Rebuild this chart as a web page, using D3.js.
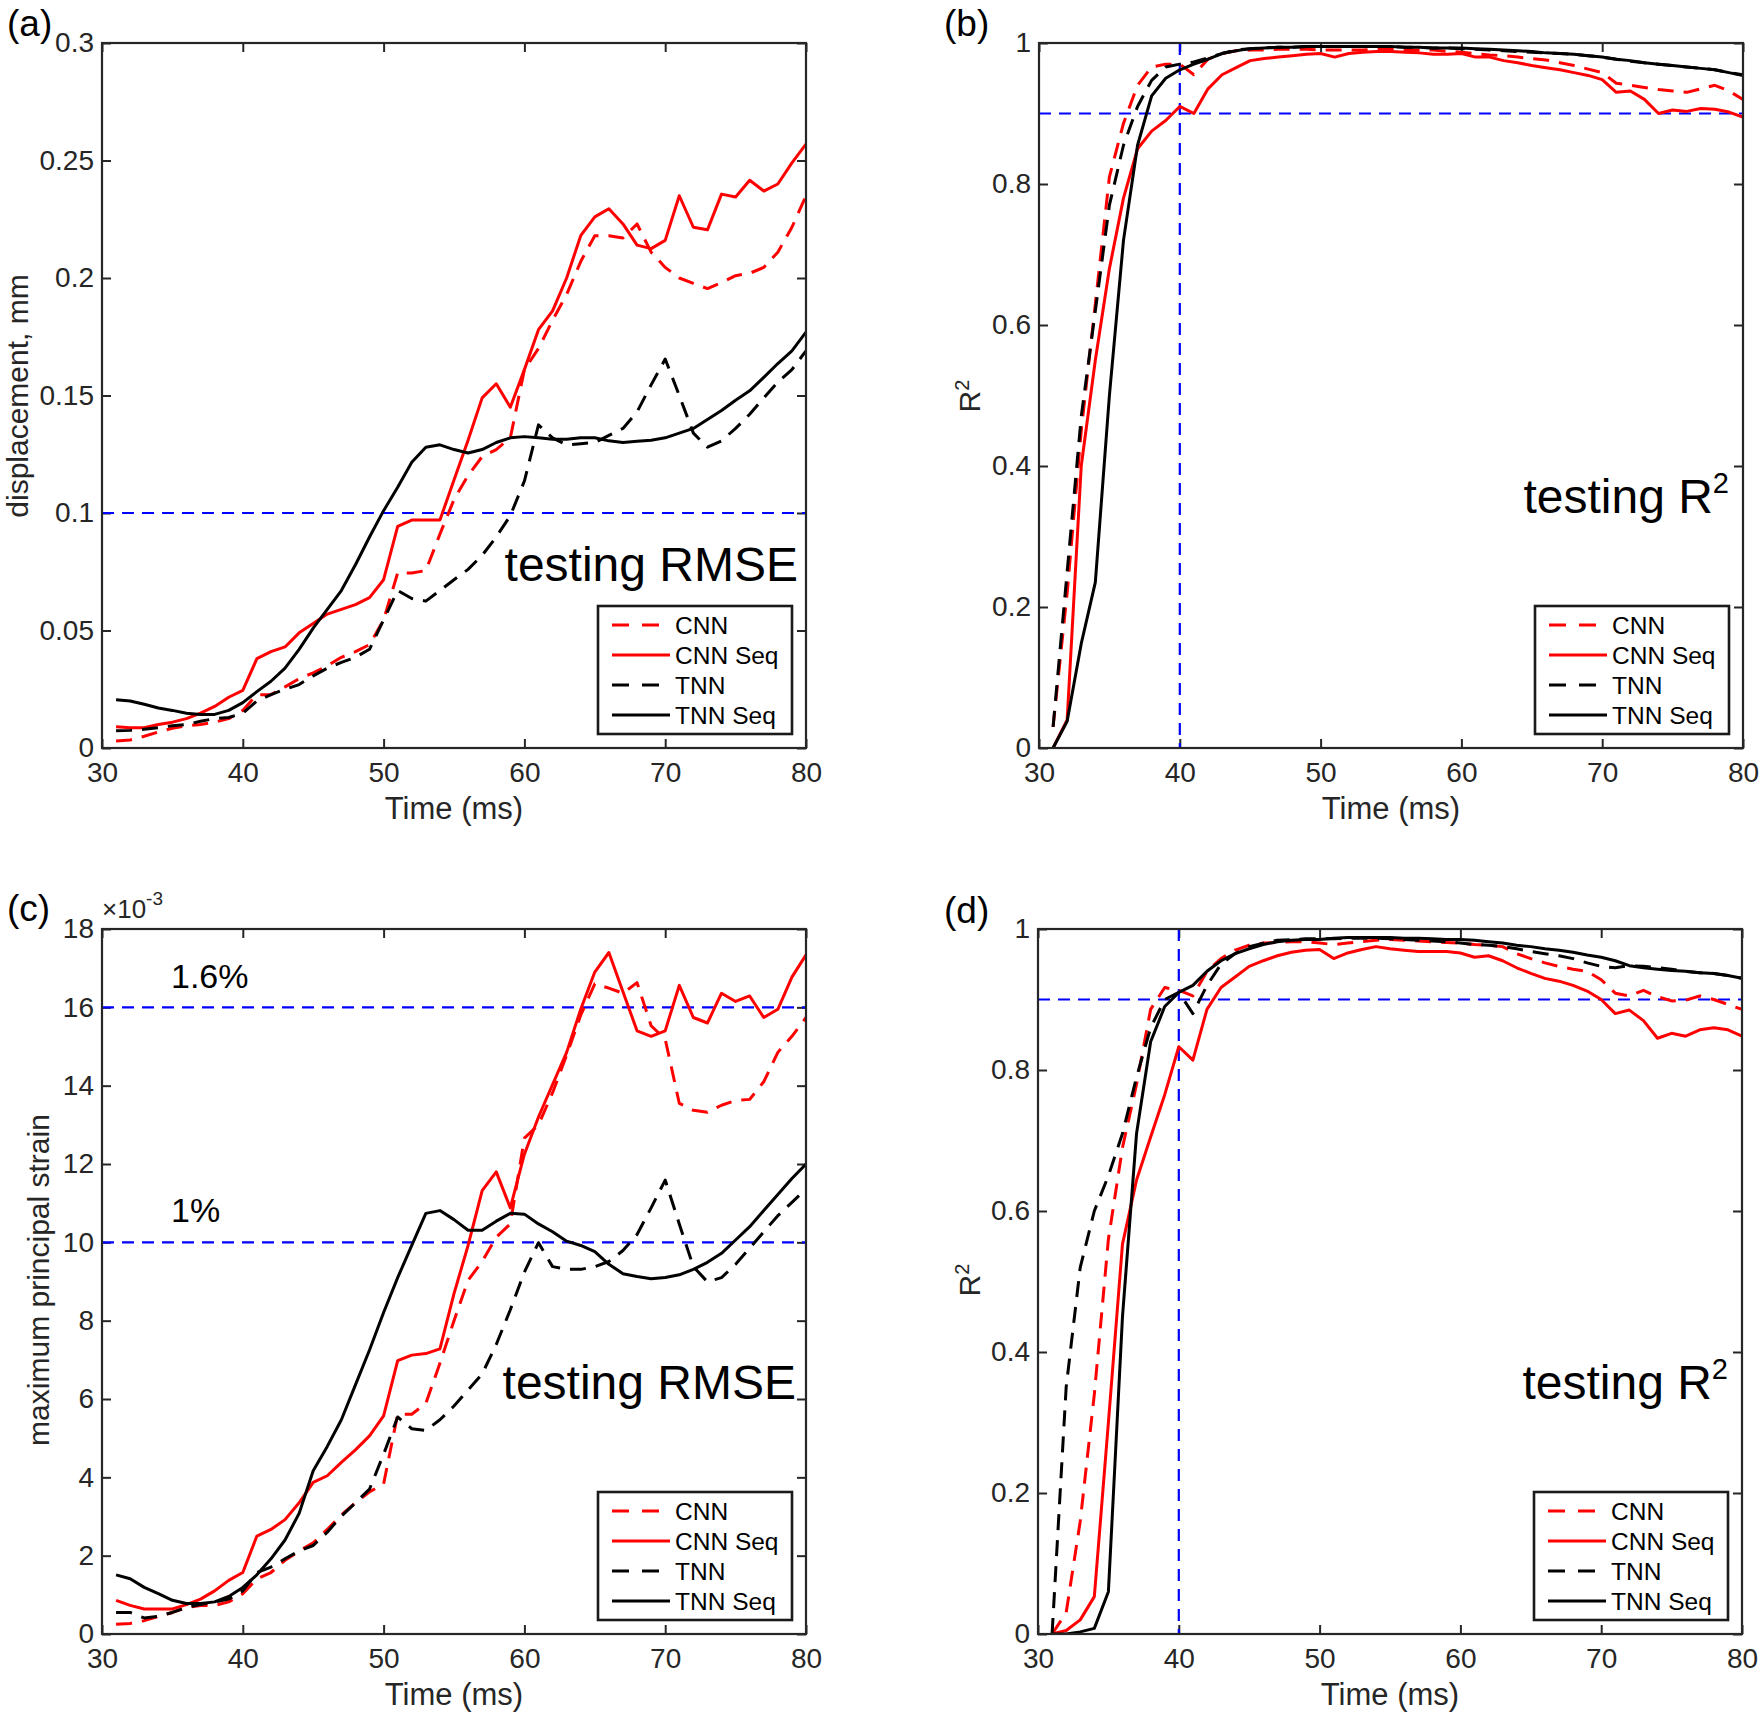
<!DOCTYPE html>
<html>
<head>
<meta charset="utf-8">
<script src="https://cdn.jsdelivr.net/npm/d3@7"></script>
<style>
  html, body { margin: 0; padding: 0; background: #fff; }
  svg { display: block; font-family: "Liberation Sans", Arial, Helvetica, sans-serif; }
</style>
</head>
<body>
<svg id="chart" width="1760" height="1719"></svg>
<script>
// ---------------- DATA ----------------
const time = [31,32,33,34,35,36,37,38,39,40,41,42,43,44,45,46,47,48,49,50,
              51,52,53,54,55,56,57,58,59,60,61,62,63,64,65,66,67,68,69,70,
              71,72,73,74,75,76,77,78,79,80];
const seriesNames = ["CNN", "CNN Seq", "TNN", "TNN Seq"];
const xTicks = [30, 40, 50, 60, 70, 80];

// (a) displacement RMSE, mm
const a_CNN = [0.003,0.0034,0.005,0.0068,0.0084,0.0095,0.010,0.011,0.0125,0.016,
  0.0227,0.0227,0.026,0.0295,0.032,0.035,0.0386,0.041,0.044,0.0545,
  0.0745,0.0745,0.0755,0.091,0.1057,0.116,0.124,0.127,0.132,0.161,
  0.170,0.182,0.193,0.207,0.218,0.218,0.217,0.223,0.211,0.2045,
  0.200,0.1977,0.1955,0.198,0.201,0.202,0.2045,0.211,0.2216,0.235];
const a_CNNSeq = [0.009,0.0086,0.0086,0.010,0.011,0.0125,0.0148,0.0177,0.0216,0.0245,
  0.038,0.041,0.043,0.049,0.053,0.057,0.059,0.061,0.064,0.0716,
  0.0943,0.097,0.097,0.097,0.114,0.131,0.149,0.155,0.145,0.161,
  0.178,0.186,0.200,0.218,0.226,0.2295,0.223,0.214,0.2125,0.216,
  0.235,0.2216,0.2205,0.2357,0.2345,0.2416,0.237,0.240,0.249,0.257];
const a_TNN = [0.0073,0.0075,0.008,0.0086,0.0095,0.010,0.0114,0.0125,0.013,0.0148,
  0.020,0.0227,0.025,0.027,0.0307,0.034,0.0364,0.0386,0.042,0.0545,
  0.067,0.0636,0.0625,0.067,0.0716,0.076,0.082,0.0898,0.0989,0.1136,
  0.1375,0.132,0.129,0.1295,0.130,0.133,0.136,0.143,0.1545,0.1655,
  0.150,0.134,0.128,0.1307,0.136,0.142,0.149,0.1557,0.161,0.169];
const a_TNNSeq = [0.0205,0.020,0.0186,0.017,0.016,0.0148,0.0143,0.0143,0.016,0.0193,
  0.024,0.0284,0.034,0.042,0.051,0.059,0.067,0.078,0.0898,0.101,
  0.111,0.1216,0.128,0.129,0.127,0.1255,0.127,0.130,0.132,0.1325,
  0.132,0.1314,0.1314,0.132,0.132,0.1307,0.130,0.1305,0.131,0.132,
  0.134,0.136,0.1398,0.1436,0.148,0.152,0.1577,0.1636,0.169,0.177];
const a_yTicks = [0, 0.05, 0.1, 0.15, 0.2, 0.25, 0.3];
const a_yTickLabels = ["0", "0.05", "0.1", "0.15", "0.2", "0.25", "0.3"];

// (b) displacement R^2
const b_CNN = [0.03,0.22,0.45,0.63,0.81,0.886,0.94,0.966,0.97,0.97,
  0.955,0.977,0.985,0.989,0.99,0.99,0.991,0.991,0.991,0.99,
  0.99,0.99,0.99,0.991,0.991,0.99,0.99,0.99,0.988,0.987,
  0.985,0.983,0.982,0.98,0.978,0.976,0.972,0.968,0.963,0.958,
  0.943,0.94,0.937,0.934,0.932,0.93,0.935,0.94,0.932,0.92];
const b_CNNSeq = [0.0,0.04,0.40,0.55,0.68,0.78,0.85,0.875,0.89,0.91,
  0.90,0.935,0.955,0.965,0.975,0.978,0.98,0.982,0.984,0.985,
  0.98,0.985,0.987,0.988,0.988,0.987,0.986,0.984,0.984,0.985,
  0.98,0.98,0.975,0.972,0.968,0.965,0.962,0.958,0.954,0.948,
  0.93,0.932,0.92,0.90,0.905,0.903,0.907,0.906,0.902,0.895];
const b_TNN = [0.03,0.25,0.47,0.62,0.77,0.855,0.91,0.947,0.966,0.97,
  0.973,0.979,0.985,0.99,0.992,0.993,0.994,0.994,0.995,0.995,
  0.995,0.995,0.995,0.995,0.995,0.994,0.994,0.993,0.993,0.992,
  0.991,0.99,0.989,0.988,0.987,0.986,0.985,0.984,0.982,0.98,
  0.977,0.974,0.972,0.97,0.968,0.966,0.964,0.962,0.958,0.955];
const b_TNNSeq = [0.0,0.038,0.148,0.235,0.50,0.72,0.855,0.925,0.95,0.962,
  0.97,0.977,0.985,0.989,0.992,0.993,0.994,0.994,0.995,0.995,
  0.995,0.995,0.995,0.995,0.995,0.994,0.994,0.993,0.993,0.993,
  0.992,0.991,0.99,0.989,0.988,0.986,0.985,0.984,0.982,0.98,
  0.977,0.975,0.972,0.97,0.968,0.966,0.964,0.962,0.958,0.954];
const r2Ticks = [0, 0.2, 0.4, 0.6, 0.8, 1];
const r2TickLabels = ["0", "0.2", "0.4", "0.6", "0.8", "1"];

// (c) max principal strain RMSE (x10^-3)
const c_CNN = [0.25,0.27,0.34,0.45,0.55,0.68,0.73,0.73,0.82,1.03,
  1.41,1.57,1.88,2.12,2.33,2.67,3.04,3.35,3.63,3.83,
  5.61,5.61,5.89,6.91,8.0,9.03,9.51,10.13,10.47,12.66,
  13.0,13.82,14.78,15.8,16.6,16.49,16.36,16.63,15.53,15.19,
  13.55,13.37,13.32,13.5,13.62,13.65,14.1,14.85,15.26,15.74];
const c_CNNSeq = [0.86,0.73,0.64,0.64,0.64,0.75,0.89,1.1,1.37,1.57,
  2.5,2.67,2.92,3.35,3.87,4.04,4.38,4.7,5.06,5.57,
  6.98,7.12,7.16,7.28,8.69,9.92,11.32,11.8,10.88,12.25,
  13.2,14.03,14.85,15.95,16.9,17.4,16.4,15.4,15.26,15.4,
  16.56,15.74,15.6,16.36,16.15,16.29,15.74,15.95,16.77,17.34];
const c_TNN = [0.55,0.55,0.41,0.45,0.55,0.68,0.75,0.82,0.89,1.1,
  1.57,1.71,1.92,2.12,2.26,2.6,3.01,3.35,3.7,4.59,
  5.54,5.24,5.2,5.47,5.82,6.23,6.64,7.39,8.28,9.24,
  9.99,9.38,9.31,9.31,9.38,9.51,9.79,10.2,10.88,11.59,
  10.47,9.38,8.99,9.1,9.44,9.85,10.27,10.68,11.02,11.36];
const c_TNNSeq = [1.51,1.41,1.19,1.03,0.86,0.78,0.78,0.82,0.96,1.19,
  1.51,1.92,2.4,3.08,4.17,4.79,5.47,6.36,7.25,8.21,
  9.1,9.92,10.74,10.81,10.58,10.31,10.31,10.54,10.74,10.72,
  10.47,10.27,10.03,9.92,9.76,9.44,9.2,9.13,9.07,9.1,
  9.17,9.31,9.49,9.72,10.06,10.4,10.81,11.22,11.63,12.0];
const c_yTicks = [0, 2, 4, 6, 8, 10, 12, 14, 16, 18];
const c_yTickLabels = ["0","2","4","6","8","10","12","14","16","18"];

// (d) max principal strain R^2
const d_CNN = [0.0,0.03,0.16,0.34,0.56,0.69,0.78,0.886,0.917,0.913,
  0.905,0.94,0.958,0.97,0.977,0.98,0.981,0.982,0.982,0.98,
  0.978,0.98,0.982,0.984,0.985,0.984,0.983,0.982,0.981,0.98,
  0.978,0.977,0.975,0.965,0.958,0.952,0.947,0.943,0.94,0.928,
  0.909,0.905,0.913,0.904,0.898,0.899,0.905,0.9,0.893,0.886];
const d_CNNSeq = [0.0,0.005,0.02,0.053,0.30,0.553,0.644,0.705,0.765,0.833,
  0.814,0.886,0.917,0.932,0.947,0.955,0.962,0.967,0.97,0.971,
  0.958,0.966,0.971,0.975,0.972,0.97,0.968,0.968,0.968,0.966,
  0.96,0.962,0.955,0.945,0.937,0.93,0.926,0.92,0.912,0.9,
  0.88,0.885,0.87,0.845,0.852,0.848,0.857,0.86,0.857,0.848];
const d_TNN = [0.0,0.35,0.52,0.60,0.65,0.71,0.79,0.86,0.90,0.91,
  0.88,0.92,0.95,0.965,0.975,0.98,0.984,0.985,0.986,0.986,
  0.986,0.987,0.987,0.987,0.986,0.985,0.984,0.983,0.982,0.98,
  0.978,0.977,0.975,0.972,0.968,0.965,0.962,0.958,0.952,0.947,
  0.945,0.948,0.947,0.945,0.943,0.94,0.938,0.937,0.934,0.93];
const d_TNNSeq = [0.0,0.0,0.003,0.008,0.06,0.45,0.71,0.84,0.89,0.91,
  0.92,0.94,0.955,0.965,0.972,0.978,0.982,0.984,0.985,0.985,
  0.987,0.988,0.988,0.988,0.988,0.987,0.987,0.986,0.985,0.985,
  0.984,0.982,0.98,0.977,0.975,0.972,0.97,0.967,0.963,0.96,
  0.955,0.948,0.945,0.943,0.941,0.94,0.938,0.937,0.934,0.93];

// ---------------- DRAWING ----------------
const svg = d3.select("#chart");
const AX = "#262626";
const styles = [
  {color: "#ff0000", dash: "16,10"},
  {color: "#ff0000", dash: null},
  {color: "#000000", dash: "16,10"},
  {color: "#000000", dash: null}
];
const W = 704, H = 705;

function drawPanel(cfg) {
  const g = svg.append("g").attr("transform", `translate(${cfg.left},${cfg.top})`);
  const x = d3.scaleLinear().domain([30, 80]).range([0, W]);
  const y = d3.scaleLinear().domain(cfg.yDomain).range([H, 0]);

  const clipId = "clip-" + cfg.id;
  g.append("clipPath").attr("id", clipId).append("rect")
    .attr("x", 0).attr("y", -2).attr("width", W).attr("height", H + 2);

  // axes
  const fmtY = d => cfg.yLabels[cfg.yTicks.indexOf(d)];
  const bottom = g.append("g").attr("transform", `translate(0,${H})`)
    .call(d3.axisBottom(x).tickValues(xTicks).tickSizeInner(-9).tickSizeOuter(0).tickPadding(14));
  const top = g.append("g")
    .call(d3.axisTop(x).tickValues(xTicks).tickSizeInner(-9).tickSizeOuter(0).tickFormat(""));
  const left = g.append("g")
    .call(d3.axisLeft(y).tickValues(cfg.yTicks).tickSizeInner(-9).tickSizeOuter(0).tickPadding(8).tickFormat(fmtY));
  const right = g.append("g").attr("transform", `translate(${W},0)`)
    .call(d3.axisRight(y).tickValues(cfg.yTicks).tickSizeInner(-9).tickSizeOuter(0).tickFormat(""));
  [bottom, top, left, right].forEach(a => {
    a.select(".domain").remove();
    a.selectAll(".tick line").attr("stroke", AX).attr("stroke-width", 2);
    a.selectAll(".tick text").attr("fill", AX).style("font-size", "28px")
      .style("font-family", '"Liberation Sans", Arial, sans-serif');
  });

  // reference lines
  const ref = g.append("g").attr("clip-path", `url(#${clipId})`);
  cfg.hRefs.forEach(v => {
    ref.append("line").attr("x1", 0).attr("x2", W).attr("y1", y(v)).attr("y2", y(v))
      .attr("stroke", "#0000ff").attr("stroke-width", 2.2).attr("stroke-dasharray", "12,8");
  });
  cfg.vRefs.forEach(v => {
    ref.append("line").attr("x1", x(v)).attr("x2", x(v)).attr("y1", 0).attr("y2", H)
      .attr("stroke", "#0000ff").attr("stroke-width", 2.2).attr("stroke-dasharray", "12,8");
  });

  // data lines
  const line = d3.line().x((d, i) => x(time[i])).y(d => y(d));
  const lg = g.append("g").attr("clip-path", `url(#${clipId})`);
  cfg.series.forEach((s, k) => {
    lg.append("path").datum(s).attr("d", line)
      .attr("fill", "none").attr("stroke", styles[k].color).attr("stroke-width", 3)
      .attr("stroke-linejoin", "round")
      .attr("stroke-dasharray", styles[k].dash);
  });

  // box
  g.append("rect").attr("x", 0).attr("y", 0).attr("width", W).attr("height", H)
    .attr("fill", "none").attr("stroke", AX).attr("stroke-width", 2.2);

  // annotation text
  const t = g.append("text").attr("x", cfg.noteX).attr("y", cfg.noteY)
    .attr("text-anchor", "end").attr("fill", "#000").style("font-size", "48px")
    .text(cfg.note);
  if (cfg.noteSup) {
    t.append("tspan").attr("dy", -20).style("font-size", "29px").text(cfg.noteSup);
  }

  // legend
  const LW = 194, LH = 128;
  const lx = W - 14 - LW, ly = H - 14 - LH;
  const leg = g.append("g").attr("transform", `translate(${lx},${ly})`);
  leg.append("rect").attr("width", LW).attr("height", LH).attr("fill", "#fff")
    .attr("stroke", "#1a1a1a").attr("stroke-width", 2.6);
  seriesNames.forEach((name, k) => {
    const yy = 19 + k * 30;
    leg.append("line").attr("x1", 14).attr("x2", 72).attr("y1", yy).attr("y2", yy)
      .attr("stroke", styles[k].color).attr("stroke-width", 3.2)
      .attr("stroke-dasharray", styles[k].dash ? "17,13" : null);
    leg.append("text").attr("x", 77).attr("y", yy).attr("dy", "0.36em")
      .attr("fill", "#000").style("font-size", "24.5px").text(name);
  });

  // x label
  g.append("text").attr("x", W / 2).attr("y", cfg.xLabelY).attr("text-anchor", "middle")
    .attr("fill", AX).style("font-size", "31px").text("Time (ms)");

  // y label
  const yl = svg.append("text")
    .attr("transform", `translate(${cfg.yLabelX},${cfg.top + cfg.yLabelCY}) rotate(-90)`)
    .attr("text-anchor", "middle").attr("dy", "0.35em")
    .attr("fill", AX).style("font-size", "30px").text(cfg.yLabel);
  if (cfg.yLabelSup) {
    yl.append("tspan").attr("dy", "-0.55em").style("font-size", "20px").text(cfg.yLabelSup);
  }

  // panel label
  svg.append("text").attr("x", cfg.tagX).attr("y", cfg.tagY).attr("fill", "#000")
    .style("font-size", "37px").text(cfg.tag);

  return {g, x, y};
}

drawPanel({
  id: "a", left: 102, top: 43, yDomain: [0, 0.3], yTicks: a_yTicks, yLabels: a_yTickLabels,
  series: [a_CNN, a_CNNSeq, a_TNN, a_TNNSeq], hRefs: [0.1], vRefs: [],
  note: "testing RMSE", noteX: W - 8, noteY: 538,
  xLabelY: 776, yLabel: "displacement, mm", yLabelX: 17, yLabelCY: 353,
  tag: "(a)", tagX: 7, tagY: 36
});
drawPanel({
  id: "b", left: 1039, top: 43, yDomain: [0, 1], yTicks: r2Ticks, yLabels: r2TickLabels,
  series: [b_CNN, b_CNNSeq, b_TNN, b_TNNSeq], hRefs: [0.9], vRefs: [40],
  note: "testing R", noteSup: "2", noteX: W - 14, noteY: 470,
  xLabelY: 776, yLabel: "R", yLabelSup: "2", yLabelX: 969, yLabelCY: 353,
  tag: "(b)", tagX: 944, tagY: 36
});
const pc = drawPanel({
  id: "c", left: 102, top: 929, yDomain: [0, 18], yTicks: c_yTicks, yLabels: c_yTickLabels,
  series: [c_CNN, c_CNNSeq, c_TNN, c_TNNSeq], hRefs: [16, 10], vRefs: [],
  note: "testing RMSE", noteX: W - 10, noteY: 470,
  xLabelY: 776, yLabel: "maximum principal strain", yLabelX: 38, yLabelCY: 351,
  tag: "(c)", tagX: 7, tagY: 921
});
drawPanel({
  id: "d", left: 1038, top: 929, yDomain: [0, 1], yTicks: r2Ticks, yLabels: r2TickLabels,
  series: [d_CNN, d_CNNSeq, d_TNN, d_TNNSeq], hRefs: [0.9], vRefs: [40],
  note: "testing R", noteSup: "2", noteX: W - 14, noteY: 470,
  xLabelY: 776, yLabel: "R", yLabelSup: "2", yLabelX: 969, yLabelCY: 351,
  tag: "(d)", tagX: 944, tagY: 923
});

// exponent label and threshold notes for (c)
const expT = svg.append("text").attr("x", 102).attr("y", 918).attr("fill", AX).style("font-size", "26px");
expT.append("tspan").text("\u00d710");
expT.append("tspan").attr("dy", -13).style("font-size", "19px").text("-3");
pc.g.append("text").attr("x", 69).attr("y", pc.y(16) - 19).attr("fill", "#000")
  .style("font-size", "34px").text("1.6%");
pc.g.append("text").attr("x", 69).attr("y", pc.y(10) - 20).attr("fill", "#000")
  .style("font-size", "34px").text("1%");
</script>
</body>
</html>
